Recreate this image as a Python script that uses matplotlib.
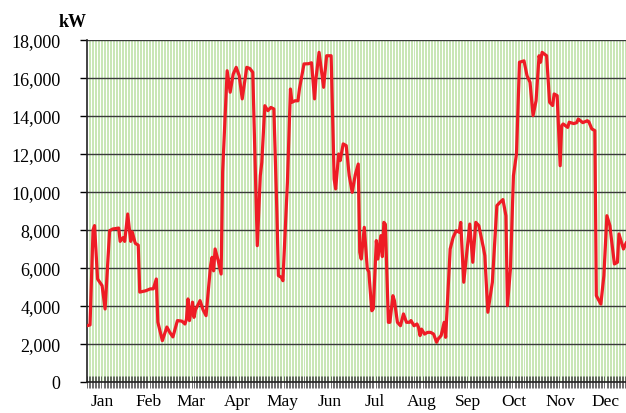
import matplotlib
matplotlib.use("Agg")
import matplotlib.pyplot as plt
import numpy as np

# Daily load readings (day of year, kW)
days = [0, 2, 4, 5, 7, 10, 12, 15, 17, 21, 22, 24, 25, 27, 29, 30, 32, 34, 35, 39,
        42, 44, 46, 47, 50, 53, 55, 57, 60, 63, 65, 66, 67, 68, 70, 71, 72, 75, 77, 79,
        82, 83, 84, 85, 87, 89, 90, 93, 95, 97, 99, 101, 103, 106, 108, 110, 113, 115, 116, 118,
        120, 122, 124, 126, 127, 129, 130, 133, 135, 136, 138, 140, 141, 144, 147, 149, 151, 152, 154, 157,
        159, 162, 164, 165, 167, 168, 170, 172, 174, 176, 178, 180, 181, 182, 184, 186, 187, 189, 190, 192,
        193, 195, 196, 197, 198, 200, 201, 203, 204, 206, 208, 210, 212, 214, 215, 217, 219, 220, 221, 222,
        224, 226, 228, 230, 232, 233, 235, 237, 238, 241, 243, 245, 247, 248, 250, 254, 256, 258, 260, 263,
        264, 266, 269, 272, 274, 276, 278, 279, 281, 283, 285, 287, 290, 292, 294, 296, 298, 300, 301, 302,
        305, 307, 309, 310, 312, 314, 315, 316, 319, 320, 323, 325, 326, 329, 332, 333, 335, 337, 338, 341,
        343, 345, 347, 348, 350, 352, 353, 356, 358, 360, 362, 364]
kw = [2960, 3000, 8000, 8230, 5420, 5070, 3840, 7960, 8050, 8100, 7400, 7600, 7400, 8840, 7400, 7900, 7300, 7200, 4730, 4800,
      4900, 4900, 5420, 3150, 2175, 2890, 2600, 2370, 3230, 3200, 3050, 3300, 4370, 3230, 4200, 3400, 3800, 4280, 3800, 3490,
      6120, 6560, 5850, 7000, 6400, 5680, 11050, 16380, 15250, 16200, 16560, 16120, 14900, 16560, 16500, 16300, 7175, 10860, 11560, 14540,
      14280, 14450, 14370, 8950, 5600, 5500, 5330, 10510, 15420, 14720, 14800, 14800, 15440, 16740, 16750, 16800, 14900, 16000, 17350, 15510,
      17170, 17170, 10680, 10160, 12000, 11650, 12530, 12440, 10860, 9980, 10900, 11470, 6830, 6470, 8140, 5950, 5800, 3750, 3860, 7440,
      6470, 7700, 6600, 8400, 8300, 3140, 3140, 4540, 4280, 3140, 2960, 3580, 3140, 3140, 3230, 2960, 3050, 2870, 2440, 2780,
      2520, 2610, 2610, 2520, 2090, 2260, 2440, 3140, 2350, 7000, 7615, 7960, 7880, 8400, 5250, 8310, 6300, 8400, 8230, 7090,
      6650, 3670, 5250, 9280, 9450, 9600, 8750, 4020, 5950, 10860, 12000, 16830, 16900, 16120, 15770, 14020, 14800, 17170, 16830, 17350,
      17170, 14720, 14550, 15160, 15070, 11380, 13490, 13580, 13400, 13670, 13600, 13650, 13840, 13650, 13750, 13700, 13320, 13230, 4540, 4100,
      5590, 8750, 8230, 7530, 6210, 6300, 7790, 7000, 7350, 7200, 7100, 7300]

months = ["Jan", "Feb", "Mar", "Apr", "May", "Jun", "Jul", "Aug", "Sep", "Oct", "Nov", "Dec"]
month_start = [0, 31, 59, 90, 120, 151, 181, 212, 243, 273, 304, 334]

plt.rcParams["font.family"] = ["Liberation Serif", "DejaVu Serif"]

fig = plt.figure(figsize=(6.26, 4.14), dpi=100)
ax = fig.add_axes([0.139, 0.075, 0.8786, 0.826])

# green daily grid
for d in range(1, 366):
    ax.axvline(d, color="#a3d683", lw=0.42, zorder=0)
for v in range(2000, 18001, 2000):
    ax.axhline(v, color="#3a3a3a", lw=1.0, zorder=1)

ax.plot(days, kw, color="#ee1c25", lw=2.3, zorder=3, solid_joinstyle="round")

ax.set_xlim(0, 365)
ax.set_ylim(0, 18000)
ax.set_yticks(range(0, 18001, 2000))
ax.set_yticklabels([f"{v:,}" for v in range(0, 18001, 2000)], fontsize=13)
ax.tick_params(axis="y", direction="out", length=5, width=1, pad=14)

ax.set_xticks(np.arange(0, 366), minor=True)
ax.set_xticks([m + 10 for m in month_start])
ax.set_xticklabels(months, fontsize=12.5)
ax.tick_params(axis="x", which="major", length=0, pad=8)
ax.tick_params(axis="x", which="minor", direction="inout", length=9, width=0.5, color="#333333")

for s in ["top", "right"]:
    ax.spines[s].set_visible(False)
ax.spines["left"].set_color("#222222")
ax.spines["bottom"].set_color("#222222")
ax.spines["left"].set_linewidth(1.2)
ax.spines["bottom"].set_linewidth(1.2)

fig.text(0.093, 0.945, "kW", fontsize=13, fontweight="bold", ha="left", va="center")

fig.savefig("out.png", dpi=100)
